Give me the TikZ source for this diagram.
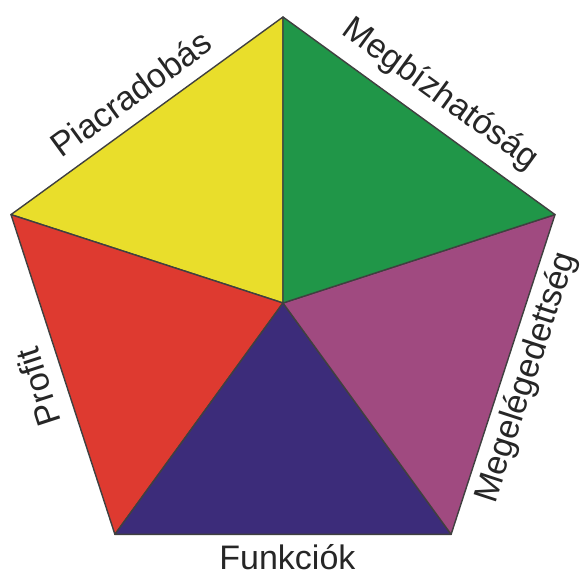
\documentclass[tikz,border=0pt]{standalone}
\usepackage{fontspec}
\setmainfont{Liberation Sans}
\usetikzlibrary{calc}
\definecolor{pyellow}{RGB}{233,222,43}
\definecolor{pgreen}{RGB}{32,150,72}
\definecolor{pmagenta}{RGB}{160,74,128}
\definecolor{pblue}{RGB}{60,44,122}
\definecolor{pred}{RGB}{222,58,48}
\begin{document}
\begin{tikzpicture}[
  x=1pt, y=1pt,
  line join=round,
  sector/.style={draw=black!75, line width=1.4pt},
  lbl/.style={font=\fontsize{34}{40}\selectfont, text=black!85, inner sep=0pt}
]
  \useasboundingbox (0,0) rectangle (584,577);
  \coordinate (c) at (283,274);

  % corners: v0 top, v1 upper left, v2 lower left, v3 lower right, v4 upper right
  \foreach \i in {0,...,4}
    \coordinate (v\i) at ($(c)+(90+72*\i:286)$);

  % the five triangles
  \filldraw[sector, fill=pyellow]  (c) -- (v0) -- (v1) -- cycle;
  \filldraw[sector, fill=pred]     (c) -- (v1) -- (v2) -- cycle;
  \filldraw[sector, fill=pblue]    (c) -- (v2) -- (v3) -- cycle;
  \filldraw[sector, fill=pmagenta] (c) -- (v3) -- (v4) -- cycle;
  \filldraw[sector, fill=pgreen]   (c) -- (v4) -- (v0) -- cycle;

  % labels along the outer edges
  \node[lbl, rotate=36]  (piac)   at ($(c)+(126:259)$) {Piacradobás};
  \node[lbl, rotate=-36] (megb)   at ($(c)+(53:261)$)  {Megbízhatóság};
  \node[lbl, rotate=108] (profit) at ($(c)+(199:259)$) {Profit};
  \node[lbl]             (funk)   at ($(c)+(-89:254)$) {Funkciók};
  \node[lbl, rotate=72]  (megel)  at ($(c)+(-17:255)$) {Megelégedettség};
\end{tikzpicture}
\end{document}
